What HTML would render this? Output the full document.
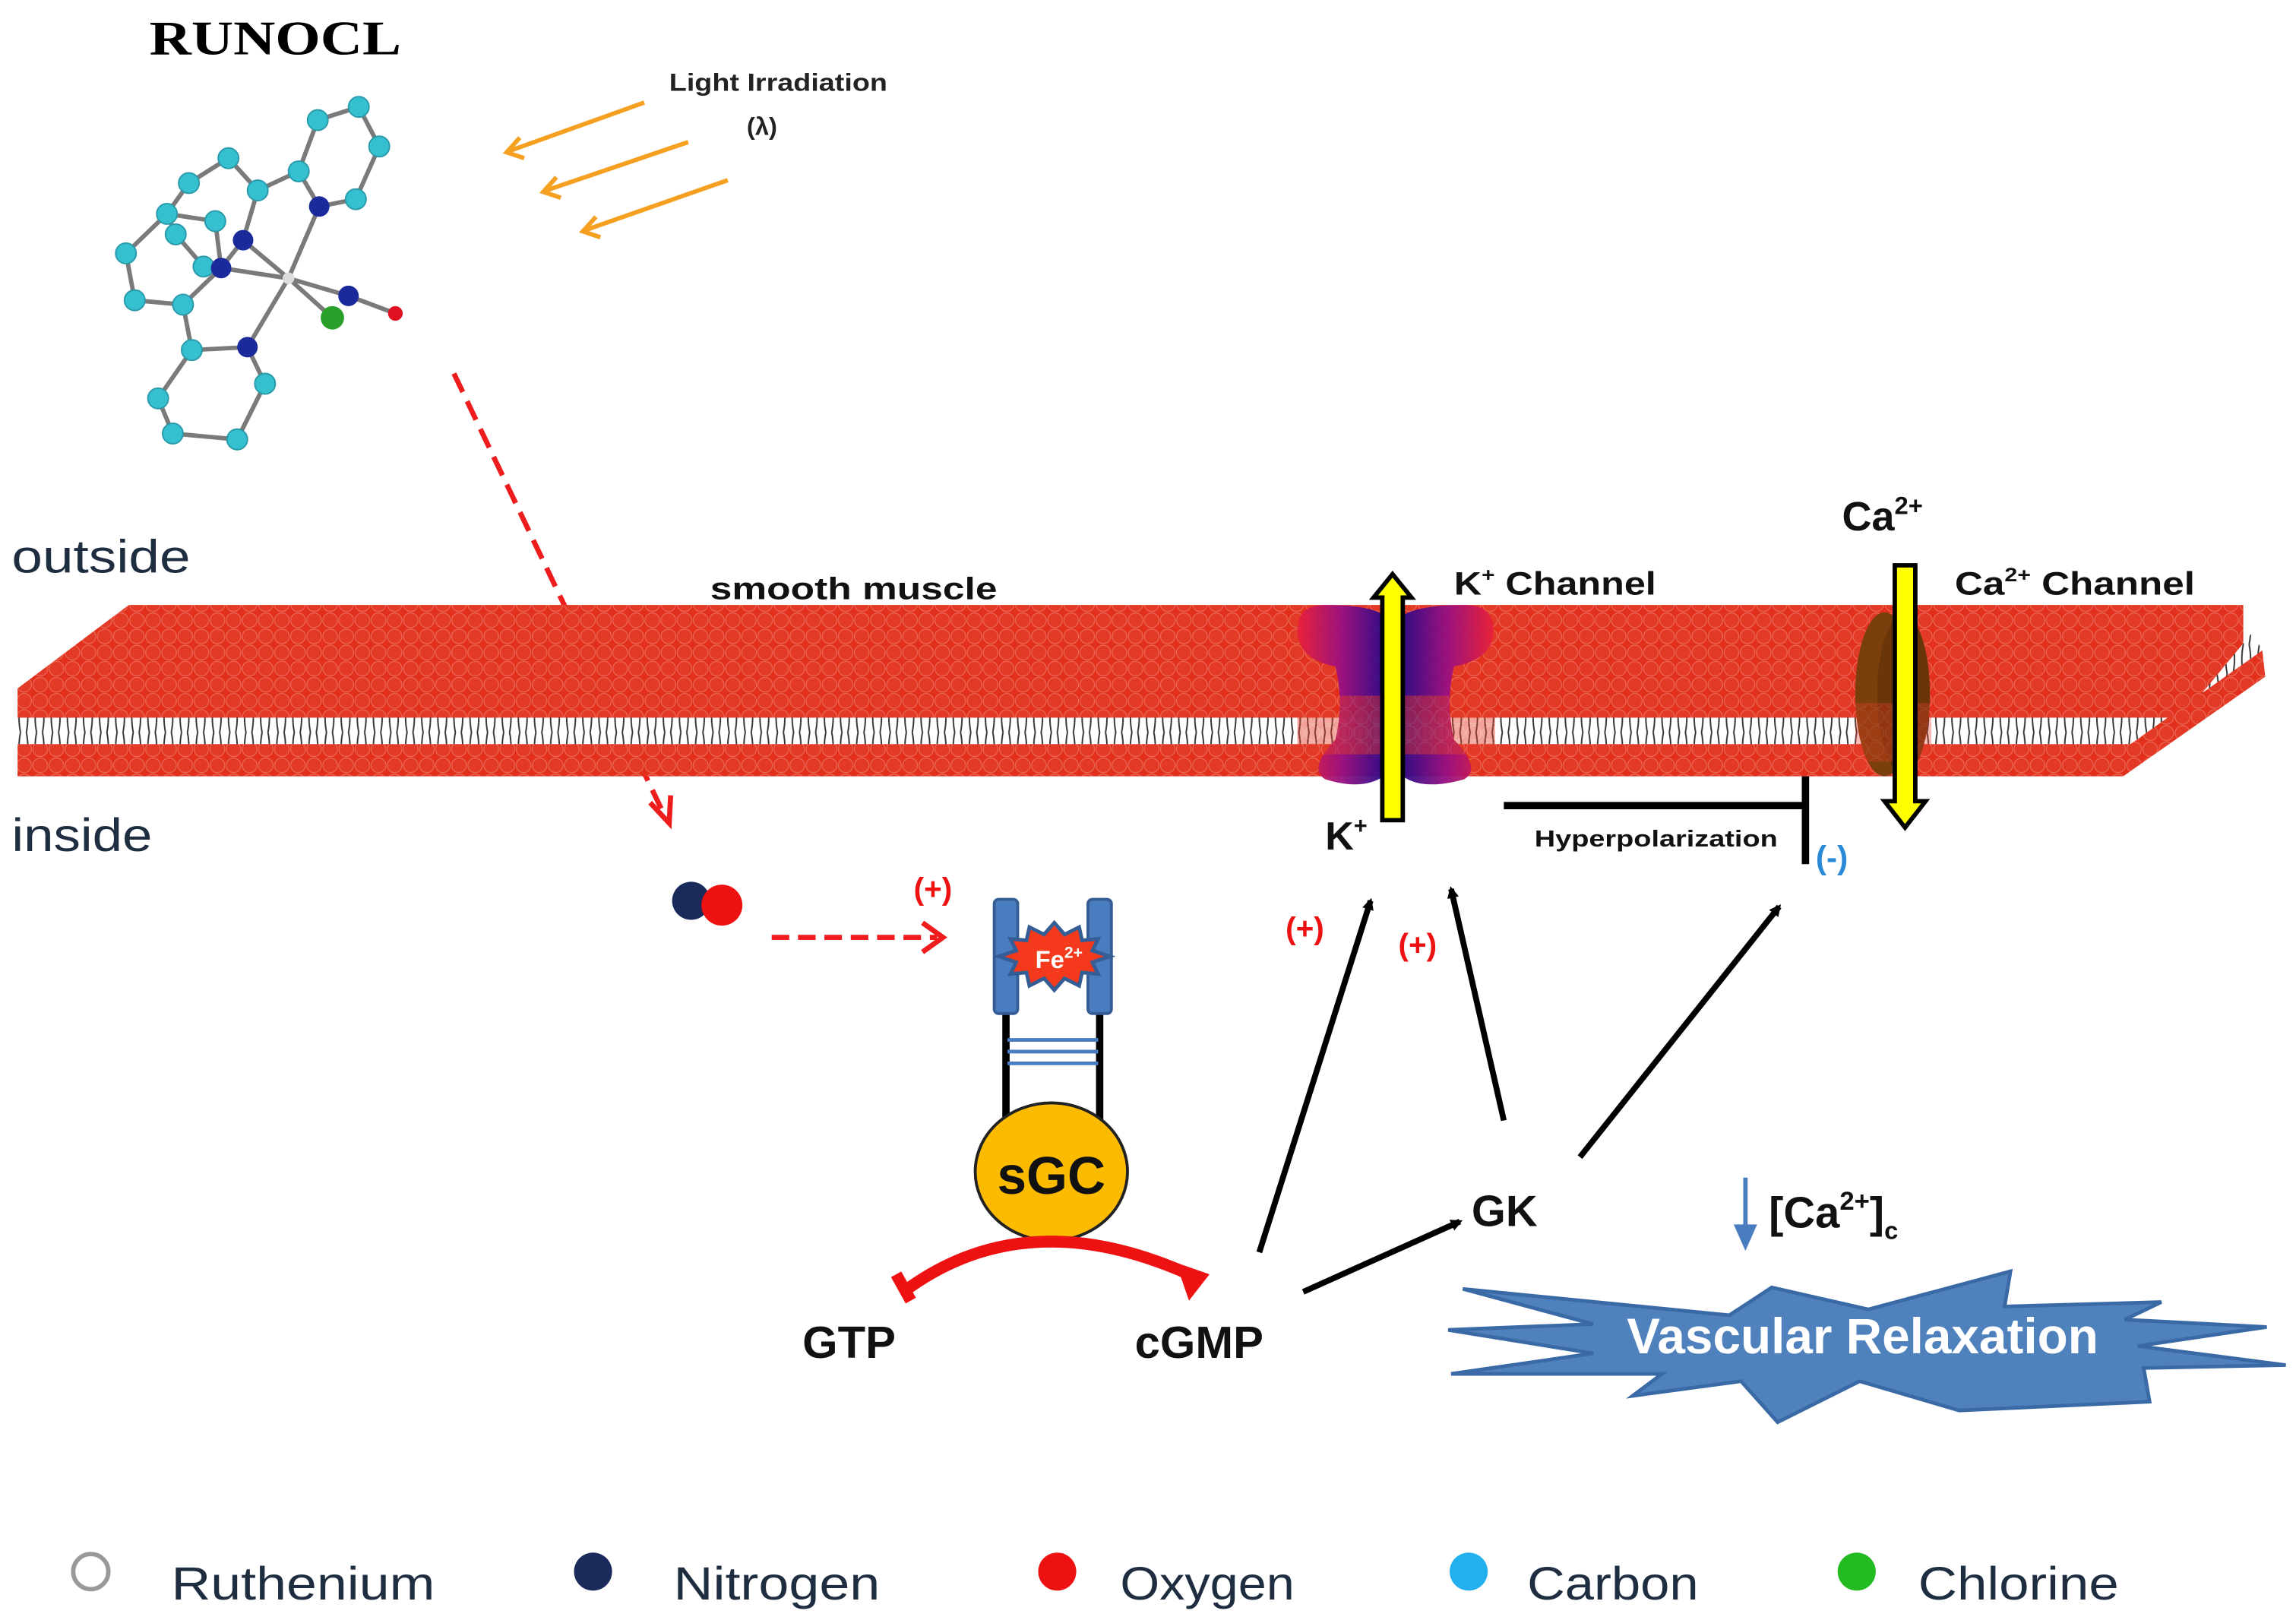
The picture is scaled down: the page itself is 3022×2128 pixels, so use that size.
<!DOCTYPE html>
<html><head><meta charset="utf-8"><style>
html,body{margin:0;padding:0;background:#fff;}
svg{display:block;}
text{font-family:"Liberation Sans",sans-serif;}
</style></head><body>
<svg width="3022" height="2128" viewBox="0 0 1568 1104" preserveAspectRatio="none" xmlns="http://www.w3.org/2000/svg">
<defs>
<pattern id="heads" width="11" height="11" patternUnits="userSpaceOnUse">
<rect width="11" height="11" fill="#e2301d"/>
<circle cx="5.5" cy="5.5" r="5" fill="#e33a27" stroke="#ea6a58" stroke-width="0.6"/>
</pattern>
<pattern id="tails" width="11" height="20" patternUnits="userSpaceOnUse">
<rect width="11" height="20" fill="#fff"/>
<path d="M3 0 Q1 10 3 20 M7 0 Q9 10 7 20" stroke="#333" stroke-width="1" fill="none"/>
</pattern>
<linearGradient id="kg" x1="0" x2="1" y1="0" y2="0">
<stop offset="0" stop-color="#e8203a"/><stop offset="0.5" stop-color="#9a1080"/><stop offset="1" stop-color="#2a0a8a"/>
</linearGradient>
<linearGradient id="kg2" x1="1" x2="0" y1="0" y2="0">
<stop offset="0" stop-color="#e8203a"/><stop offset="0.5" stop-color="#9a1080"/><stop offset="1" stop-color="#2a0a8a"/>
</linearGradient>
<marker id="ah" markerWidth="8" markerHeight="8" refX="6" refY="4" orient="auto" markerUnits="userSpaceOnUse"><path d="M0 0 L8 4 L0 8 Z" fill="#000"/></marker>
</defs>

<text x="102" y="37" font-weight="bold" font-size="33" textLength="172" lengthAdjust="spacingAndGlyphs" style="font-family:'Liberation Serif',serif">RUNOCL</text>
<text x="457" y="62" font-weight="bold" font-size="17" textLength="149" lengthAdjust="spacingAndGlyphs" fill="#222">Light Irradiation</text>
<text x="510" y="92" font-weight="bold" font-size="17" fill="#222">(λ)</text>
<g stroke="#f5a020" stroke-width="3" fill="none">
<path d="M440 70 L348 103 M355 94 L346 104 L358 108"/>
<path d="M470 97 L373 130 M380 121 L371 131 L383 135"/>
<path d="M497 123 L400 157 M407 148 L398 158 L410 162"/>
</g>

<g stroke="#7a7a7a" stroke-width="3" fill="none">
<path d="M245 73 L217 82 M245 73 L259 100 L243 136 L218 141 L204 117 L217 82 M204 117 L176 130 L156 108 L129 125 L114 146 L86 173 L92 205 L125 208 L151 183 M114 146 L147 151 L151 183 M114 146 L120 160 L139 182 M176 130 L166 164 L151 183 M166 164 L197 190 M151 183 L197 190 M218 141 L197 190 M197 190 L238 202 L270 214 M197 190 L227 217 M197 190 L169 237 L131 239 L125 208 M169 237 L181 262 L162 300 L118 296 L108 272 L131 239"/>
</g>
<g fill="#35c0d0" stroke="#2a9aaa" stroke-width="1">
<circle cx="245" cy="73" r="7"/><circle cx="217" cy="82" r="7"/><circle cx="259" cy="100" r="7"/><circle cx="204" cy="117" r="7"/><circle cx="243" cy="136" r="7"/>
<circle cx="156" cy="108" r="7"/><circle cx="129" cy="125" r="7"/><circle cx="176" cy="130" r="7"/><circle cx="114" cy="146" r="7"/><circle cx="147" cy="151" r="7"/><circle cx="120" cy="160" r="7"/><circle cx="86" cy="173" r="7"/><circle cx="139" cy="182" r="7"/><circle cx="92" cy="205" r="7"/><circle cx="125" cy="208" r="7"/><circle cx="131" cy="239" r="7"/><circle cx="181" cy="262" r="7"/><circle cx="108" cy="272" r="7"/><circle cx="118" cy="296" r="7"/><circle cx="162" cy="300" r="7"/>
</g>
<g fill="#1a2a9a"><circle cx="218" cy="141" r="7"/><circle cx="166" cy="164" r="7"/><circle cx="151" cy="183" r="7"/><circle cx="238" cy="202" r="7"/><circle cx="169" cy="237" r="7"/></g>
<circle cx="197" cy="190" r="4" fill="#ddd"/>
<circle cx="227" cy="217" r="8" fill="#2aa02a"/>
<circle cx="270" cy="214" r="5" fill="#e01020"/>

<path d="M310 255 L452 553" stroke="#ee1c1c" stroke-width="3.5" stroke-dasharray="14 7" fill="none"/>
<path d="M444 548 L457 562 L458 543" stroke="#ee1c1c" stroke-width="3.5" fill="none"/>

<text x="8" y="391" font-size="32" textLength="122" lengthAdjust="spacingAndGlyphs" fill="#1e2e40">outside</text>
<text x="8" y="581" font-size="32" textLength="96" lengthAdjust="spacingAndGlyphs" fill="#1e2e40">inside</text>

<polygon points="12,492 12,470 88,413 1532,413 1532,445 1493,492" fill="url(#heads)"/>
<polygon points="12,490 1490,490 1538,432 1545,444 1455,510 12,510" fill="url(#tails)"/>
<polygon points="12,508 1455,508 1545,444 1547,462 1450,530 12,530" fill="url(#heads)"/>
<text x="485" y="409" font-weight="bold" font-size="21" textLength="196" lengthAdjust="spacingAndGlyphs" fill="#111">smooth muscle</text>

<path d="M886 430 Q886 413 905 413 Q935 413 945 420 L945 530 Q930 540 905 532 Q893 525 912 505 Q918 480 912 455 Q886 450 886 430 Z" fill="url(#kg)" opacity="0.95"/>
<path d="M1020 430 Q1020 413 1000 413 Q970 413 958 420 L958 530 Q972 540 1000 532 Q1012 525 993 505 Q987 480 993 455 Q1020 450 1020 430 Z" fill="url(#kg2)" opacity="0.95"/>
<rect x="886" y="475" width="135" height="40" fill="url(#heads)" opacity="0.45"/>
<path d="M944 560 L944 408 L938 408 L951 392 L964 408 L958 408 L958 560 Z" fill="#ffff00" stroke="#000" stroke-width="3"/>
<text x="993" y="406" font-weight="bold" font-size="22" textLength="138" lengthAdjust="spacingAndGlyphs" fill="#111">K<tspan font-size="13" dy="-9">+</tspan><tspan dy="9"> Channel</tspan></text>
<text x="905" y="580" font-weight="bold" font-size="27" fill="#111">K<tspan font-size="16" dy="-11">+</tspan></text>

<ellipse cx="1287" cy="474" rx="20" ry="56" fill="#7a3f0c"/>
<ellipse cx="1300" cy="474" rx="18" ry="54" fill="#6a3508"/>
<rect x="1267" y="480" width="52" height="40" fill="url(#heads)" opacity="0.35"/>
<path d="M1294 386 L1294 547 L1287 547 L1301 565 L1315 547 L1308 547 L1308 386 Z" fill="#ffff00" stroke="#000" stroke-width="3"/>
<text x="1258" y="362" font-weight="bold" font-size="28" fill="#111">Ca<tspan font-size="17" dy="-11">2+</tspan></text>
<text x="1335" y="406" font-weight="bold" font-size="22" textLength="164" lengthAdjust="spacingAndGlyphs" fill="#111">Ca<tspan font-size="13" dy="-9">2+</tspan><tspan dy="9"> Channel</tspan></text>

<path d="M1027 550 L1233 550 M1233 530 L1233 590" stroke="#000" stroke-width="5" fill="none"/>
<text x="1048" y="578" font-weight="bold" font-size="16" textLength="166" lengthAdjust="spacingAndGlyphs" fill="#111">Hyperpolarization</text>
<text x="1240" y="593" font-weight="bold" font-size="22" fill="#2a8ad8">(-)</text>

<circle cx="472" cy="615" r="13" fill="#1a2a5a"/>
<circle cx="493" cy="618" r="14" fill="#ee1111"/>
<path d="M527 640 L640 640" stroke="#ee1c1c" stroke-width="3.5" stroke-dasharray="12 6" fill="none"/>
<path d="M630 630 L644 640 L630 650" stroke="#ee1c1c" stroke-width="3.5" fill="none"/>
<text x="624" y="614" font-weight="bold" font-size="21" fill="#ee1111">(+)</text>

<path d="M687 690 L687 770 M751 690 L751 770" stroke="#000" stroke-width="5"/>
<path d="M688 710 L750 710 M688 718 L750 718 M688 726 L750 726" stroke="#4a7cc0" stroke-width="2.5"/>
<rect x="679" y="614" width="16" height="78" rx="3" fill="#4a7cc0" stroke="#355d95" stroke-width="2"/>
<rect x="743" y="614" width="16" height="78" rx="3" fill="#4a7cc0" stroke="#355d95" stroke-width="2"/>
<polygon points="720,630 727,638 737,633 739,642 750,641 746,649 758,653 746,657 750,665 739,664 737,673 727,668 720,676 713,668 703,673 701,664 690,665 694,657 682,653 694,649 690,641 701,642 703,633 713,638" fill="#f5391c" stroke="#355d95" stroke-width="2.5"/>
<text x="707" y="661" font-weight="bold" font-size="17" fill="#fff">Fe<tspan font-size="11" dy="-7">2+</tspan></text>
<ellipse cx="718" cy="800" rx="52" ry="47" fill="#fdbb00" stroke="#222" stroke-width="2"/>
<text x="718" y="815" text-anchor="middle" font-weight="bold" font-size="36" fill="#111">sGC</text>

<path d="M617 882 Q700 820 812 870" stroke="#ee1111" stroke-width="8" fill="none"/>
<path d="M612 870 L622 888" stroke="#ee1111" stroke-width="8"/>
<polygon points="803,862 826,870 812,888" fill="#ee1111"/>
<text x="548" y="927" font-weight="bold" font-size="31" fill="#111">GTP</text>
<text x="775" y="927" font-weight="bold" font-size="31" fill="#111">cGMP</text>

<g stroke="#000" stroke-width="4" fill="none" marker-end="url(#ah)">
<path d="M860 855 L936 615"/>
<path d="M890 882 L997 834"/>
<path d="M1027 765 L991 607"/>
<path d="M1079 790 L1215 619"/>
</g>
<text x="878" y="641" font-weight="bold" font-size="21" fill="#ee1111">(+)</text>
<text x="955" y="652" font-weight="bold" font-size="21" fill="#ee1111">(+)</text>
<text x="1005" y="837" font-weight="bold" font-size="30" fill="#111">GK</text>

<path d="M1192 804 L1192 846" stroke="#4a7cc0" stroke-width="3"/>
<polygon points="1184,836 1200,836 1192,854" fill="#4a7cc0"/>
<text x="1208" y="838" font-weight="bold" font-size="30" fill="#111">[Ca<tspan font-size="18" dy="-12">2+</tspan><tspan dy="12">]</tspan><tspan font-size="17" dy="8">c</tspan></text>

<polygon points="999,880 1181,898 1210,879 1276,894 1373,868 1369,892 1476,889 1451,901 1548,906 1460,919 1561,932 1464,934 1468,957 1338,963 1270,943 1214,971 1189,943 1115,953 1135,938 991,938 1088,924 989,908 1088,904" fill="#4f81bd" stroke="#3a6aa6" stroke-width="2.5"/>
<text x="1111" y="924" font-weight="bold" font-size="34" textLength="322" lengthAdjust="spacingAndGlyphs" fill="#fff">Vascular Relaxation</text>

<circle cx="62" cy="1073" r="12" fill="#fff" stroke="#999" stroke-width="3"/>
<text x="117" y="1092" font-size="32" textLength="180" lengthAdjust="spacingAndGlyphs" fill="#1e2e40">Ruthenium</text>
<circle cx="405" cy="1073" r="13" fill="#1a2a5a"/>
<text x="460" y="1092" font-size="32" textLength="141" lengthAdjust="spacingAndGlyphs" fill="#1e2e40">Nitrogen</text>
<circle cx="722" cy="1073" r="13" fill="#ee1111"/>
<text x="765" y="1092" font-size="32" textLength="119" lengthAdjust="spacingAndGlyphs" fill="#1e2e40">Oxygen</text>
<circle cx="1003" cy="1073" r="13" fill="#22b0ee"/>
<text x="1043" y="1092" font-size="32" textLength="117" lengthAdjust="spacingAndGlyphs" fill="#1e2e40">Carbon</text>
<circle cx="1268" cy="1073" r="13" fill="#22bb22"/>
<text x="1310" y="1092" font-size="32" textLength="137" lengthAdjust="spacingAndGlyphs" fill="#1e2e40">Chlorine</text>
</svg>
</body></html>
